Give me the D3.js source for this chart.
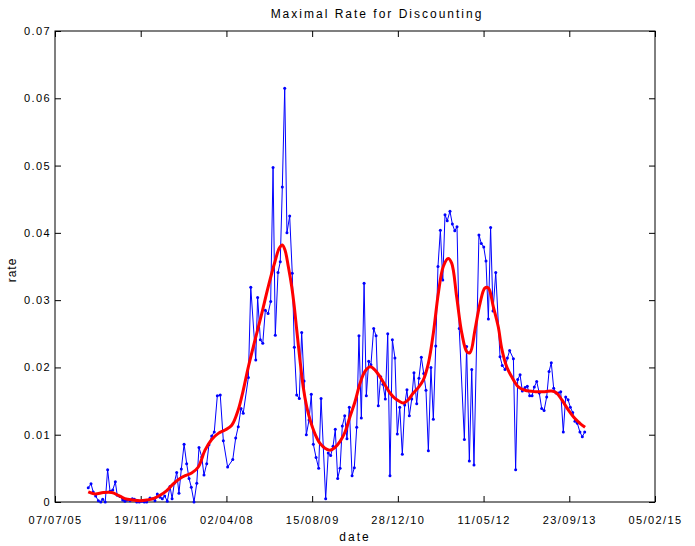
<!DOCTYPE html>
<html>
<head>
<meta charset="utf-8">
<script src="https://cdn.jsdelivr.net/npm/d3@7"></script>
<style>
  body { margin: 0; background: #fff; }
  text { font-family: "Liberation Sans", Arial, sans-serif; fill: #000; }
</style>
</head>
<body>
<svg width="695" height="546"></svg>
<script>
// dates as day offsets from 07/07/05
var startLabel = "07/07/05";
var xTickLabels = ["07/07/05", "19/11/06", "02/04/08", "15/08/09", "28/12/10", "11/05/12", "23/09/13", "05/02/15"];
var yTicks = [0, 0.01, 0.02, 0.03, 0.04, 0.05, 0.06, 0.07];

var rateDays = [194, 210, 223, 237, 253, 267, 278, 293, 307, 321, 337, 352, 363, 379, 395, 408, 422, 438, 451, 463,
  477, 492, 506, 521, 535, 554, 570, 583, 597, 613, 626, 640, 655, 671, 683, 696, 710, 723, 737, 753,
  768, 782, 795, 811, 827, 840, 856, 869, 885, 898, 914, 929, 947, 964, 982, 1007, 1037, 1054, 1069, 1085,
  1098, 1128, 1142, 1171, 1182, 1198, 1212, 1227, 1243, 1258, 1272, 1285, 1301, 1314, 1326, 1340, 1353, 1369, 1384, 1396,
  1410, 1425, 1439, 1453, 1466, 1482, 1495, 1507, 1523, 1538, 1552, 1565, 1579, 1594, 1608, 1622, 1635, 1649, 1663, 1676,
  1690, 1703, 1717, 1733, 1746, 1760, 1773, 1787, 1803, 1816, 1830, 1843, 1859, 1873, 1886, 1900, 1913, 1927, 1941, 1954,
  1968, 1983, 1997, 2011, 2026, 2040, 2053, 2067, 2081, 2094, 2110, 2123, 2137, 2151, 2164, 2178, 2193, 2207, 2221, 2234,
  2248, 2262, 2275, 2288, 2304, 2318, 2332, 2345, 2358, 2388, 2401, 2417, 2431, 2444, 2473, 2487, 2501, 2514, 2528, 2541,
  2555, 2571, 2596, 2609, 2625, 2639, 2652, 2674, 2687, 2699, 2713, 2726, 2742, 2755, 2769, 2783, 2796, 2810, 2825, 2839,
  2853, 2868, 2882, 2895, 2909, 2923, 2936, 2950, 2965, 2979, 2993, 3006, 3020, 3033, 3047, 3062, 3076, 3090];
var rateValues = [0.0021, 0.0027, 0.0015, 0.0009, 0.0002, 0.0000, 0.0004, 0.0000, 0.0048, 0.0016, 0.0018, 0.0030, 0.0010, 0.0008, 0.0003, 0.0001, 0.0003, 0.0002, 0.0005, 0.0004,
  0.0000, 0.0000, 0.0001, 0.0000, 0.0000, 0.0006, 0.0005, 0.0002, 0.0012, 0.0007, 0.0005, 0.0009, 0.0001, 0.0023, 0.0005, 0.0028, 0.0044, 0.0013, 0.0049, 0.0086,
  0.0057, 0.0035, 0.0022, 0.0000, 0.0028, 0.0081, 0.0067, 0.0040, 0.0057, 0.0085, 0.0098, 0.0104, 0.0158, 0.0159, 0.0091, 0.0052, 0.0063, 0.0095, 0.0112, 0.0139,
  0.0132, 0.0185, 0.0319, 0.0211, 0.0304, 0.0241, 0.0236, 0.0285, 0.0280, 0.0298, 0.0497, 0.0248, 0.0341, 0.0357, 0.0468, 0.0615, 0.0400, 0.0425, 0.0340, 0.0230,
  0.0159, 0.0154, 0.0252, 0.0180, 0.0100, 0.0122, 0.0160, 0.0086, 0.0066, 0.0050, 0.0154, 0.0082, 0.0005, 0.0073, 0.0069, 0.0083, 0.0108, 0.0035, 0.0050, 0.0113,
  0.0128, 0.0094, 0.0141, 0.0039, 0.0051, 0.0111, 0.0247, 0.0125, 0.0325, 0.0158, 0.0209, 0.0204, 0.0258, 0.0247, 0.0143, 0.0186, 0.0175, 0.0153, 0.0250, 0.0039,
  0.0241, 0.0214, 0.0101, 0.0141, 0.0071, 0.0144, 0.0167, 0.0128, 0.0153, 0.0192, 0.0146, 0.0184, 0.0215, 0.0191, 0.0166, 0.0076, 0.0200, 0.0123, 0.0232, 0.0350,
  0.0404, 0.0330, 0.0427, 0.0418, 0.0432, 0.0413, 0.0403, 0.0409, 0.0258, 0.0093, 0.0231, 0.0061, 0.0197, 0.0055, 0.0397, 0.0384, 0.0379, 0.0358, 0.0272, 0.0408,
  0.0284, 0.0341, 0.0216, 0.0203, 0.0197, 0.0214, 0.0225, 0.0213, 0.0048, 0.0182, 0.0189, 0.0165, 0.0170, 0.0172, 0.0158, 0.0158, 0.0171, 0.0179, 0.0162, 0.0139,
  0.0136, 0.0156, 0.0194, 0.0207, 0.0169, 0.0162, 0.0162, 0.0164, 0.0104, 0.0156, 0.0152, 0.0141, 0.0133, 0.0120, 0.0117, 0.0104, 0.0097, 0.0104];

// smoothed trend
var trendDays = [194, 233, 282, 331, 369, 408, 457, 496, 535, 573, 613, 652, 690, 729, 768, 797, 836, 875, 914, 953,
  992, 1031, 1069, 1098, 1128, 1167, 1206, 1244, 1283, 1308, 1326, 1342, 1361, 1381, 1396, 1410, 1429, 1448, 1468, 1488,
  1517, 1546, 1575, 1604, 1633, 1663, 1692, 1721, 1750, 1779, 1808, 1838, 1867, 1896, 1925, 1954, 1983, 2013, 2032, 2061,
  2090, 2119, 2148, 2178, 2207, 2236, 2265, 2294, 2314, 2343, 2373, 2403, 2421, 2450, 2479, 2508, 2528, 2557, 2586, 2606,
  2635, 2664, 2703, 2742, 2800, 2858, 2897, 2926, 2956, 2994, 3033, 3062, 3092];
var trendValues = [0.0015, 0.0012, 0.0014, 0.0014, 0.0010, 0.0005, 0.0003, 0.0002, 0.0003, 0.0005, 0.0010, 0.0017, 0.0027, 0.0035, 0.0040, 0.0043, 0.0052, 0.0077, 0.0093, 0.0102,
  0.0107, 0.0114, 0.0137, 0.0166, 0.0201, 0.0241, 0.0280, 0.0320, 0.0357, 0.0377, 0.0382, 0.0374, 0.0350, 0.0320, 0.0290, 0.0256, 0.0211, 0.0171, 0.0142, 0.0122,
  0.0101, 0.0087, 0.0080, 0.0077, 0.0081, 0.0090, 0.0104, 0.0127, 0.0149, 0.0176, 0.0194, 0.0201, 0.0196, 0.0186, 0.0174, 0.0162, 0.0154, 0.0149, 0.0147, 0.0152,
  0.0162, 0.0170, 0.0181, 0.0206, 0.0251, 0.0310, 0.0350, 0.0362, 0.0355, 0.0305, 0.0251, 0.0223, 0.0222, 0.0256, 0.0295, 0.0318, 0.0318, 0.0290, 0.0260, 0.0228,
  0.0201, 0.0186, 0.0171, 0.0166, 0.0164, 0.0164, 0.0165, 0.0162, 0.0152, 0.0137, 0.0124, 0.0117, 0.0111];

var svg = d3.select("svg");
var margin = { left: 55, right: 655, top: 31, bottom: 502 };

var parse = d3.utcParse("%d/%m/%y");
var start = parse(startLabel);
var tickDates = xTickLabels.map(parse);

var x = d3.scaleUtc()
  .domain([tickDates[0], tickDates[tickDates.length - 1]])
  .range([margin.left, margin.right]);

var y = d3.scaleLinear()
  .domain([0, 0.07])
  .range([margin.bottom, margin.top]);

var rateData = rateDays.map((d, i) => ({ date: d3.utcDay.offset(start, d), v: rateValues[i] }));
var trendData = trendDays.map((d, i) => ({ date: d3.utcDay.offset(start, d), v: trendValues[i] }));

var fmt = d3.utcFormat("%d/%m/%y");
var yfmt = d => d === 0 ? "0" : d3.format(".2f")(d);

// box
svg.append("rect")
  .attr("x", margin.left).attr("y", margin.top)
  .attr("width", margin.right - margin.left).attr("height", margin.bottom - margin.top)
  .attr("fill", "none").attr("stroke", "#000");

var styleAxis = g => {
  g.select(".domain").remove();
  g.selectAll(".tick line").attr("stroke", "#000");
  g.selectAll("text")
    .style("font-size", "11px")
    .style("letter-spacing", "1.4px")
    .style("font-family", '"Liberation Sans", Arial, sans-serif');
};

svg.append("g")
  .attr("transform", "translate(0," + margin.bottom + ")")
  .call(d3.axisBottom(x).tickValues(tickDates).tickFormat(fmt).tickSizeInner(-6).tickSizeOuter(0).tickPadding(14))
  .call(styleAxis);

svg.append("g")
  .attr("transform", "translate(0," + margin.top + ")")
  .call(d3.axisTop(x).tickValues(tickDates).tickFormat("").tickSizeInner(-6).tickSizeOuter(0))
  .call(styleAxis);

svg.append("g")
  .attr("transform", "translate(" + margin.left + ",0)")
  .call(d3.axisLeft(y).tickValues(yTicks).tickFormat(yfmt).tickSizeInner(-6).tickSizeOuter(0).tickPadding(4))
  .call(styleAxis);

svg.append("g")
  .attr("transform", "translate(" + margin.right + ",0)")
  .call(d3.axisRight(y).tickValues(yTicks).tickFormat("").tickSizeInner(-6).tickSizeOuter(0))
  .call(styleAxis);

// series
var line = d3.line().x(d => x(d.date)).y(d => y(d.v));

svg.append("path")
  .datum(rateData)
  .attr("d", line)
  .attr("fill", "none")
  .attr("stroke", "#0000ff")
  .attr("stroke-width", 1);

svg.append("g")
  .selectAll("circle")
  .data(rateData)
  .enter().append("circle")
  .attr("cx", d => x(d.date))
  .attr("cy", d => y(d.v))
  .attr("r", 1.5)
  .attr("fill", "#0000ff");

svg.append("path")
  .datum(trendData)
  .attr("d", line.curve(d3.curveCatmullRom.alpha(0.5)))
  .attr("fill", "none")
  .attr("stroke", "#ff0000")
  .attr("stroke-width", 3);

// labels
svg.append("text")
  .attr("x", 377).attr("y", 18)
  .attr("text-anchor", "middle")
  .style("font-size", "12px")
  .style("letter-spacing", "2px")
  .text("Maximal Rate for Discounting");

svg.append("text")
  .attr("x", 355).attr("y", 541)
  .attr("text-anchor", "middle")
  .style("font-size", "12px")
  .style("letter-spacing", "2px")
  .text("date");

svg.append("text")
  .attr("transform", "translate(16,270) rotate(-90)")
  .attr("text-anchor", "middle")
  .style("font-size", "12px")
  .style("letter-spacing", "1px")
  .text("rate");
</script>
</body>
</html>
